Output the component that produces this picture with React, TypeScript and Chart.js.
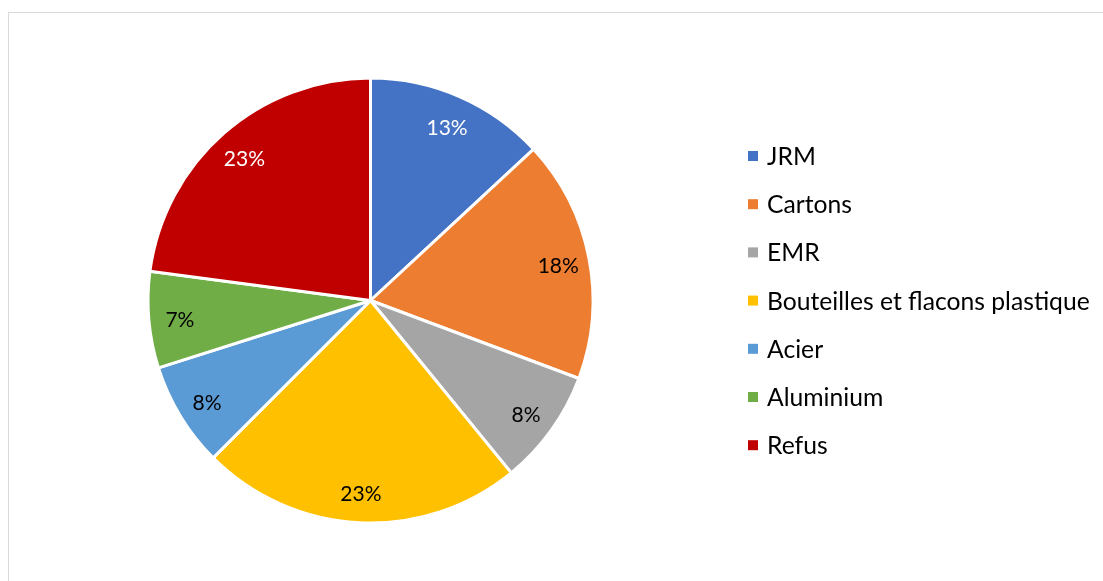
import React, { useEffect, useRef } from "react";
import { Chart, registerables } from "chart.js";

Chart.register(...registerables);

const categories = [
  "JRM",
  "Cartons",
  "EMR",
  "Bouteilles et flacons plastique",
  "Acier",
  "Aluminium",
  "Refus",
];
const shares = [13.1, 17.6, 8.4, 23.4, 7.6, 7.0, 22.9];
const sliceColors = ["#4472C4", "#ED7D31", "#A5A5A5", "#FFC000", "#5B9BD5", "#70AD47", "#C00000"];
const labelColors = ["#FFFFFF", "#000000", "#000000", "#000000", "#000000", "#000000", "#FFFFFF"];

const FONT = "Lato, 'Liberation Sans', sans-serif";

const pctLabelPlugin = {
  id: "pctLabels",
  afterDatasetsDraw(chart: any) {
    const ctx = chart.ctx;
    const meta = chart.getDatasetMeta(0);
    const data = chart.data.datasets[0].data as number[];
    const total = data.reduce((a, b) => a + b, 0);
    ctx.save();
    ctx.font = `21px ${FONT}`;
    ctx.textAlign = "center";
    ctx.textBaseline = "middle";
    meta.data.forEach((arc: any, i: number) => {
      const { x, y, startAngle, endAngle, outerRadius } = arc.getProps(
        ["x", "y", "startAngle", "endAngle", "outerRadius"],
        true
      );
      const mid = (startAngle + endAngle) / 2;
      const r = outerRadius * 0.86;
      ctx.fillStyle = labelColors[i];
      ctx.fillText(
        `${Math.round((data[i] / total) * 100)}%`,
        x + Math.cos(mid) * r,
        y + Math.sin(mid) * r + 3
      );
    });
    ctx.restore();
  },
};

const legendPlugin = {
  id: "sideLegend",
  afterDraw(chart: any) {
    const ctx = chart.ctx;
    const labels = chart.data.labels as string[];
    const colors = chart.data.datasets[0].backgroundColor as string[];
    const x0 = 748;
    const y0 = 156;
    const step = 48.2;
    ctx.save();
    ctx.font = `24.7px ${FONT}`;
    ctx.textBaseline = "middle";
    ctx.textAlign = "left";
    labels.forEach((lab, i) => {
      const cy = y0 + i * step;
      ctx.fillStyle = colors[i];
      ctx.fillRect(x0, cy - 5, 10, 10);
      ctx.fillStyle = "#000000";
      ctx.fillText(lab, x0 + 19, cy + 1);
    });
    ctx.restore();
  },
};

export default function App() {
  const ref = useRef<HTMLCanvasElement | null>(null);
  useEffect(() => {
    if (!ref.current) return;
    const chart = new Chart(ref.current, {
      type: "pie",
      data: {
        labels: categories,
        datasets: [
          {
            data: shares,
            backgroundColor: sliceColors,
            borderColor: "#FFFFFF",
            borderWidth: 3,
            hoverBorderWidth: 3,
          },
        ],
      },
      options: {
        animation: false,
        responsive: false,
        radius: 222.5,
        layout: { padding: { left: 148, top: 78, right: 510, bottom: 58 } },
        plugins: {
          legend: { display: false },
          tooltip: { enabled: false },
        },
      } as any,
      plugins: [pctLabelPlugin, legendPlugin],
    });
    return () => chart.destroy();
  }, []);
  return (
    <>
      <div
        style={{
          position: "fixed",
          left: 8,
          top: 12,
          width: 1200,
          height: 700,
          borderLeft: "1px solid #d9d9d9",
          borderTop: "1px solid #d9d9d9",
          background: "#ffffff",
        }}
      />
      <canvas
        ref={ref}
        width={1103}
        height={581}
        style={{ position: "fixed", left: 0, top: 0, width: 1103, height: 581, display: "block" }}
      />
    </>
  );
}
